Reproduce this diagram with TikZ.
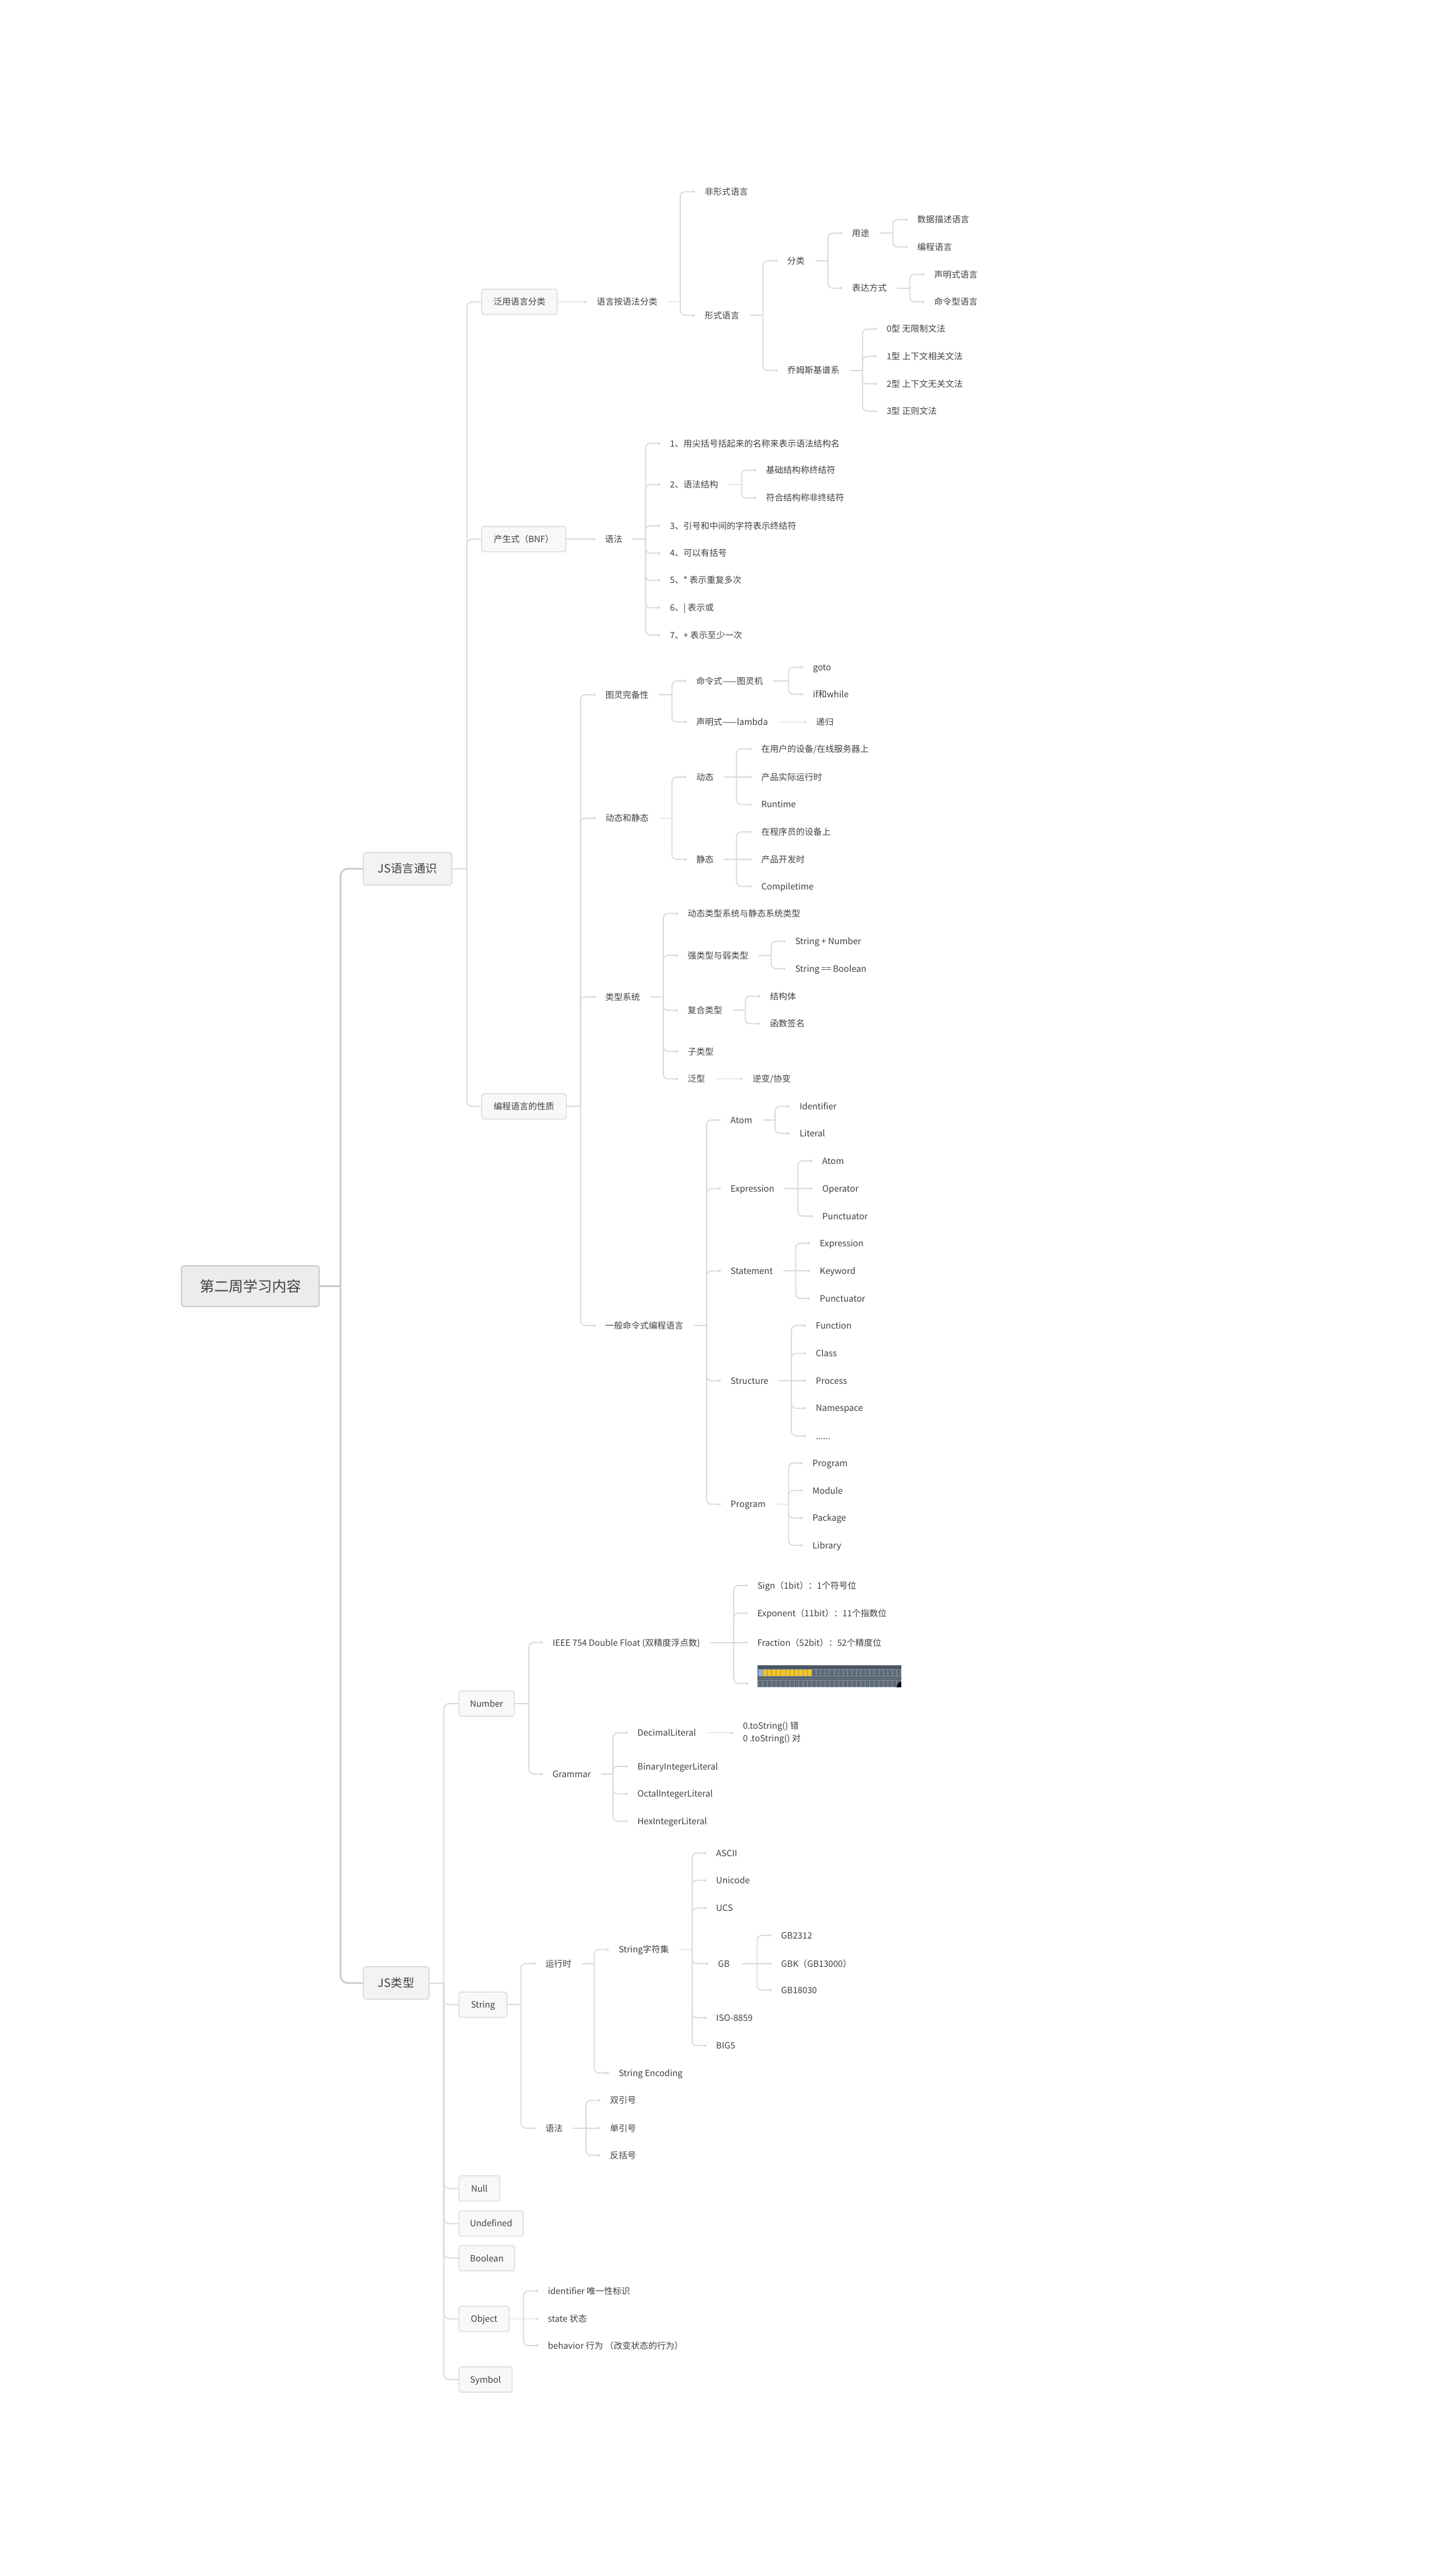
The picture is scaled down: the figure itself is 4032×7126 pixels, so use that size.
\documentclass[tikz,border=0pt]{standalone}
\usepackage{fontspec}
\setmainfont{Noto Sans CJK SC}
\usetikzlibrary{calc}
\definecolor{txtc}{HTML}{3F3F3F}
\definecolor{linec}{HTML}{DADADA}
\definecolor{trunkc}{HTML}{C9C9C9}
\definecolor{rootfill}{HTML}{ECECEC}
\definecolor{rootdraw}{HTML}{CCCCCC}
\definecolor{lonefill}{HTML}{F3F3F3}
\definecolor{lonedraw}{HTML}{D6D6D6}
\definecolor{ltwofill}{HTML}{F8F8F8}
\definecolor{ltwodraw}{HTML}{DCDCDC}
\definecolor{imgbg}{HTML}{4B5664}
\definecolor{cellg}{HTML}{5E6A78}
\definecolor{cellline}{HTML}{8A95A3}
\definecolor{cellb}{HTML}{8AB4E8}
\definecolor{celly}{HTML}{F5C518}
\newcommand\fsS{\fontsize{6.83pt}{8.2pt}\selectfont}
\newcommand\fsSS{\fontsize{6.83pt}{10.2pt}\selectfont}
\newcommand\fsM{\fontsize{9.1pt}{11pt}\selectfont}
\newcommand\fsL{\fontsize{11.38pt}{13.7pt}\selectfont}
% hub: [style]{parent}{gap}{bus x}
\newcommand\hub[4][conn]{\coordinate (#2-b) at (#4,0);\draw[#1] ($(#2.east)+(#3,0)$) -- (#2.east -| #2-b);}
% box child
\newcommand\bkid[3][busone]{\draw[#1] (#2.east -| #2-b) |- (#3.west);}
% leaf child with corner
\newcommand\kid[2]{\draw[conn] (#1.east -| #1-b) |- ($(#2.west)+(-30,0)$);\fill[dotc] ($(#2.west)+(-30,0)$) circle (0.035cm);}
% leaf child level with parent
\newcommand\kidm[2]{\draw[conn] (#1.east -| #1-b) -- ($(#2.west)+(-30,0)$);\fill[dotc] ($(#2.west)+(-30,0)$) circle (0.035cm);}
% single child
\newcommand\solo[3]{\draw[conn] ($(#1.east)+(#2,0)$) -- ($(#3.west)+(-30,0)$);\fill[dotc] ($(#3.west)+(-30,0)$) circle (0.035cm);}
\begin{document}
\begin{tikzpicture}[x=0.01cm,y=-0.01cm,
 leaf/.style={anchor=west, inner sep=0pt, font=\fsS, text=txtc, text height=0.187cm, text depth=0.005cm},
 leaftwo/.style={anchor=west, inner sep=0pt, font=\fsSS, text=txtc, align=left},
 boxtwo/.style={anchor=west, inner sep=0pt, font=\fsS, text=txtc, text height=0.187cm, text depth=0.005cm, draw=ltwodraw, fill=ltwofill, line width=0.025cm, rounded corners=0.06cm, minimum height=0.70cm},
 boxone/.style={anchor=west, inner sep=0pt, font=\fsM, text=txtc, text height=0.25cm, text depth=0.006cm, draw=lonedraw, fill=lonefill, line width=0.025cm, rounded corners=0.07cm, minimum height=0.90cm},
 rootbox/.style={anchor=west, inner sep=0pt, font=\fsL, text=txtc, text height=0.312cm, text depth=0.008cm, draw=rootdraw, fill=rootfill, line width=0.035cm, rounded corners=0.07cm, minimum height=1.13cm, minimum width=3.81cm},
 conn/.style={draw=linec, line width=0.03cm, rounded corners=0.13cm},
 busone/.style={draw=linec, line width=0.03cm, rounded corners=0.15cm},
 trunk/.style={draw=trunkc, line width=0.045cm, rounded corners=0.2cm},
 dotc/.style={fill=linec},
 cellgrid/.style={draw=cellline, line width=0.006cm}]
\fill[white] (0,0) rectangle (4032,7126);
\useasboundingbox (0,0) rectangle (4032,7126);

% ---------- root and level 1 ----------
\node[rootbox] (root) at (501,3562) {第二周学习内容};
\node[boxone, minimum width=2.45cm] (js1) at (1005,2406) {JS语言通识};
\node[boxone, minimum width=1.82cm] (js2) at (1005,5492) {JS类型};
\hub[trunk]{root}{0}{943}
\bkid[trunk]{root}{js1}
\bkid[trunk]{root}{js2}

% ---------- JS语言通识 ----------
\node[boxtwo, minimum width=2.09cm] (fy) at (1333,836) {泛用语言分类};
\node[boxtwo, minimum width=2.33cm] (bnf) at (1333,1493) {产生式（BNF）};
\node[boxtwo, minimum width=2.34cm] (xz) at (1333,3064) {编程语言的性质};
\hub[busone]{js1}{0}{1293}
\bkid{js1}{fy}
\bkid{js1}{bnf}
\bkid{js1}{xz}

% 泛用语言分类
\node[leaf] (yf) at (1652,836) {语言按语法分类};
\node[leaf] (fx1) at (1951,531) {非形式语言};
\node[leaf] (fx2) at (1951,873) {形式语言};
\node[leaf] (fl) at (2180,722) {分类};
\node[leaf] (qm) at (2180,1026) {乔姆斯基谱系};
\node[leaf] (yt) at (2359,646) {用途};
\node[leaf] (bd) at (2359,798) {表达方式};
\node[leaf] (sj) at (2540,608) {数据描述语言};
\node[leaf] (bc) at (2540,684) {编程语言};
\node[leaf] (smy) at (2587,760) {声明式语言};
\node[leaf] (mly) at (2587,836) {命令型语言};
\node[leaf] (q0) at (2455,911) {0型 无限制文法};
\node[leaf] (q1) at (2455,987) {1型 上下文相关文法};
\node[leaf] (q2) at (2455,1063) {2型 上下文无关文法};
\node[leaf] (q3) at (2455,1139) {3型 正则文法};
\solo{fy}{0}{yf}
\hub{yf}{28}{1884}
\kid{yf}{fx1}
\kid{yf}{fx2}
\hub{fx2}{28}{2113}
\kid{fx2}{fl}
\kid{fx2}{qm}
\hub{fl}{28}{2293}
\kid{fl}{yt}
\kid{fl}{bd}
\hub{yt}{28}{2473}
\kid{yt}{sj}
\kid{yt}{bc}
\hub{bd}{28}{2520}
\kid{bd}{smy}
\kid{bd}{mly}
\hub{qm}{28}{2389}
\kid{qm}{q0}
\kid{qm}{q1}
\kid{qm}{q2}
\kid{qm}{q3}

% 产生式（BNF）
\node[leaf] (yfa) at (1675,1493) {语法};
\node[leaf] (r1) at (1855,1228) {1、用尖括号括起来的名称来表示语法结构名};
\node[leaf] (r2) at (1855,1342) {2、语法结构};
\node[leaf] (r3) at (1855,1456) {3、引号和中间的字符表示终结符};
\node[leaf] (r4) at (1855,1532) {4、可以有括号};
\node[leaf] (r5) at (1855,1607) {5、* 表示重复多次};
\node[leaf] (r6) at (1855,1683) {6、| 表示或};
\node[leaf] (r7) at (1855,1759) {7、+ 表示至少一次};
\node[leaf] (jc) at (2121,1302) {基础结构称终结符};
\node[leaf] (fh) at (2121,1379) {符合结构称非终结符};
\solo{bnf}{0}{yfa}
\hub{yfa}{28}{1788}
\kid{yfa}{r1}
\kid{yfa}{r2}
\kid{yfa}{r3}
\kid{yfa}{r4}
\kid{yfa}{r5}
\kid{yfa}{r6}
\kid{yfa}{r7}
\hub{r2}{28}{2054}
\kid{r2}{jc}
\kid{r2}{fh}

% 编程语言的性质
\node[leaf] (tl) at (1676,1924) {图灵完备性};
\node[leaf] (dj) at (1676,2266) {动态和静态};
\node[leaf] (lx) at (1676,2761) {类型系统};
\node[leaf] (yb) at (1676,3671) {一般命令式编程语言};
\hub{xz}{0}{1608}
\kid{xz}{tl}
\kid{xz}{dj}
\kid{xz}{lx}
\kid{xz}{yb}

\node[leaf] (mlt) at (1928,1886) {命令式——图灵机};
\node[leaf] (smt) at (1928,2000) {声明式——lambda};
\node[leaf] (gt) at (2251,1848) {goto};
\node[leaf] (ifw) at (2251,1923) {if和while};
\node[leaf] (dg) at (2260,2000) {递归};
\hub{tl}{28}{1861}
\kid{tl}{mlt}
\kid{tl}{smt}
\hub{mlt}{28}{2184}
\kid{mlt}{gt}
\kid{mlt}{ifw}
\solo{smt}{28}{dg}

\node[leaf] (dt) at (1928,2152) {动态};
\node[leaf] (jt) at (1928,2380) {静态};
\node[leaf] (d1) at (2108,2074) {在用户的设备/在线服务器上};
\node[leaf] (d2) at (2108,2152) {产品实际运行时};
\node[leaf] (d3) at (2108,2228) {Runtime};
\node[leaf] (s1) at (2108,2304) {在程序员的设备上};
\node[leaf] (s2) at (2108,2380) {产品开发时};
\node[leaf] (s3) at (2108,2455) {Compiletime};
\hub{dj}{28}{1861}
\kid{dj}{dt}
\kid{dj}{jt}
\hub{dt}{28}{2040}
\kid{dt}{d1}
\kidm{dt}{d2}
\kid{dt}{d3}
\hub{jt}{28}{2040}
\kid{jt}{s1}
\kidm{jt}{s2}
\kid{jt}{s3}

\node[leaf] (t1) at (1904,2530) {动态类型系统与静态系统类型};
\node[leaf] (t2) at (1904,2646) {强类型与弱类型};
\node[leaf] (t3) at (1904,2798) {复合类型};
\node[leaf] (t4) at (1904,2912) {子类型};
\node[leaf] (t5) at (1904,2988) {泛型};
\node[leaf] (sn) at (2202,2607) {String + Number};
\node[leaf] (sb) at (2202,2683) {String == Boolean};
\node[leaf] (jg) at (2132,2759) {结构体};
\node[leaf] (hs) at (2132,2835) {函数签名};
\node[leaf] (nb) at (2084,2988) {逆变/协变};
\hub{lx}{28}{1837}
\kid{lx}{t1}
\kid{lx}{t2}
\kid{lx}{t3}
\kid{lx}{t4}
\kid{lx}{t5}
\hub{t2}{28}{2136}
\kid{t2}{sn}
\kid{t2}{sb}
\hub{t3}{28}{2064}
\kid{t3}{jg}
\kid{t3}{hs}
\solo{t5}{28}{nb}

\node[leaf] (at) at (2023,3102) {Atom};
\node[leaf] (ex) at (2023,3292) {Expression};
\node[leaf] (st) at (2023,3520) {Statement};
\node[leaf] (sr) at (2023,3824) {Structure};
\node[leaf] (pg) at (2023,4166) {Program};
\hub{yb}{28}{1957}
\kid{yb}{at}
\kid{yb}{ex}
\kid{yb}{st}
\kid{yb}{sr}
\kid{yb}{pg}
\node[leaf] (idf) at (2214,3064) {Identifier};
\node[leaf] (lit) at (2214,3139) {Literal};
\hub{at}{28}{2147}
\kid{at}{idf}
\kid{at}{lit}
\node[leaf] (exa) at (2277,3215) {Atom};
\node[leaf] (exo) at (2277,3292) {Operator};
\node[leaf] (exp) at (2277,3368) {Punctuator};
\hub{ex}{28}{2210}
\kid{ex}{exa}
\kidm{ex}{exo}
\kid{ex}{exp}
\node[leaf] (ste) at (2270,3443) {Expression};
\node[leaf] (stk) at (2270,3520) {Keyword};
\node[leaf] (stp) at (2270,3596) {Punctuator};
\hub{st}{28}{2204}
\kid{st}{ste}
\kidm{st}{stk}
\kid{st}{stp}
\node[leaf] (fn) at (2259,3671) {Function};
\node[leaf] (cl) at (2259,3748) {Class};
\node[leaf] (pr) at (2259,3824) {Process};
\node[leaf] (ns) at (2259,3900) {Namespace};
\node[leaf] (etc) at (2259,3977) {......};
\hub{sr}{28}{2192}
\kid{sr}{fn}
\kid{sr}{cl}
\kidm{sr}{pr}
\kid{sr}{ns}
\kid{sr}{etc}
\node[leaf] (pg1) at (2250,4052) {Program};
\node[leaf] (pg2) at (2250,4128) {Module};
\node[leaf] (pg3) at (2250,4204) {Package};
\node[leaf] (pg4) at (2250,4280) {Library};
\hub{pg}{28}{2184}
\kid{pg}{pg1}
\kid{pg}{pg2}
\kid{pg}{pg3}
\kid{pg}{pg4}

% ---------- JS类型 ----------
\node[boxtwo, minimum width=1.53cm] (num) at (1270,4718) {Number};
\node[boxtwo, minimum width=1.33cm] (str) at (1270,5552) {String};
\node[boxtwo, minimum width=1.13cm] (nul) at (1270,6061) {Null};
\node[boxtwo, minimum width=1.78cm] (und) at (1270,6158) {Undefined};
\node[boxtwo, minimum width=1.54cm] (boo) at (1270,6254) {Boolean};
\node[boxtwo, minimum width=1.39cm] (obj) at (1270,6422) {Object};
\node[boxtwo, minimum width=1.47cm] (sym) at (1270,6590) {Symbol};
\hub[busone]{js2}{0}{1229}
\bkid{js2}{num}
\bkid{js2}{str}
\bkid{js2}{nul}
\bkid{js2}{und}
\bkid{js2}{boo}
\bkid{js2}{obj}
\bkid{js2}{sym}

% Number
\node[leaf] (ieee) at (1530,4549) {IEEE 754 Double Float (双精度浮点数)};
\node[leaf] (gram) at (1530,4913) {Grammar};
\hub{num}{0}{1465}
\kid{num}{ieee}
\kid{num}{gram}
\node[leaf] (sg) at (2097,4391) {Sign（1bit）：1个符号位};
\node[leaf] (ep) at (2097,4468) {Exponent（11bit）：11个指数位};
\node[leaf] (fr) at (2097,4549) {Fraction（52bit）：52个精度位};
\node[anchor=north west, inner sep=0pt, minimum width=3.99cm, minimum height=0.61cm, fill=imgbg] (img) at (2097,4612) {};
\coordinate (imgdot) at (2099,4662);
\hub{ieee}{28}{2032}
\kid{ieee}{sg}
\kid{ieee}{ep}
\kidm{ieee}{fr}
\kid{ieee}{imgdot}
% bit layout picture
\draw[cellgrid, fill=cellb] (2100,4622) rectangle ++(12.35,20);
\foreach \i in {1,...,11} {\draw[cellgrid, fill=celly] ({2100+\i*12.35},4622) rectangle ++(12.35,20);}
\foreach \i in {12,...,31} {\draw[cellgrid, fill=cellg] ({2100+\i*12.35},4622) rectangle ++(12.35,20);}
\draw[cellline, line width=0.01cm] (2097,4647) -- (2496,4647);
\foreach \i in {0,...,31} {\draw[cellgrid, fill=cellg] ({2100+\i*12.35},4652) rectangle ++(12.35,20);}
\fill[black] (2483,4673) .. controls (2485,4663) and (2489,4659) .. (2496,4657) -- (2496,4673) -- cycle;

\node[leaf] (dl) at (1765,4799) {DecimalLiteral};
\node[leaf] (bi) at (1765,4892) {BinaryIntegerLiteral};
\node[leaf] (oc) at (1765,4968) {OctalIntegerLiteral};
\node[leaf] (hx) at (1765,5044) {HexIntegerLiteral};
\node[leaftwo] (ts) at (2057,4799) {0.toString() 错\\0 .toString() 对};
\hub{gram}{28}{1698}
\kid{gram}{dl}
\kid{gram}{bi}
\kid{gram}{oc}
\kid{gram}{hx}
\solo{dl}{28}{ts}

% String
\node[leaf] (yx) at (1510,5438) {运行时};
\node[leaf] (yfb) at (1510,5894) {语法};
\hub{str}{0}{1443}
\kid{str}{yx}
\kid{str}{yfb}
\node[leaf] (zf) at (1713,5399) {String字符集};
\node[leaf] (se) at (1713,5741) {String Encoding};
\hub{yx}{28}{1646}
\kid{yx}{zf}
\kid{yx}{se}
\node[leaf] (asc) at (1983,5132) {ASCII};
\node[leaf] (uni) at (1983,5208) {Unicode};
\node[leaf] (ucs) at (1983,5284) {UCS};
\node[leaf] (gb) at (1988,5438) {GB};
\node[leaf] (iso) at (1983,5588) {ISO-8859};
\node[leaf] (big) at (1983,5665) {BIG5};
\hub{zf}{28}{1917}
\kid{zf}{asc}
\kid{zf}{uni}
\kid{zf}{ucs}
\kid{zf}{gb}
\kid{zf}{iso}
\kid{zf}{big}
\node[leaf] (g1) at (2163,5360) {GB2312};
\node[leaf] (g2) at (2163,5438) {GBK（GB13000）};
\node[leaf] (g3) at (2163,5512) {GB18030};
\hub{gb}{33}{2097}
\kid{gb}{g1}
\kidm{gb}{g2}
\kid{gb}{g3}
\node[leaf] (sy) at (1689,5817) {双引号};
\node[leaf] (dy) at (1689,5894) {单引号};
\node[leaf] (fk) at (1689,5969) {反括号};
\hub{yfb}{28}{1623}
\kid{yfb}{sy}
\kidm{yfb}{dy}
\kid{yfb}{fk}

% Object
\node[leaf] (oi) at (1517,6345) {identifier 唯一性标识};
\node[leaf] (os) at (1517,6422) {state 状态};
\node[leaf] (ob) at (1517,6496) {behavior 行为 （改变状态的行为）};
\hub{obj}{0}{1450}
\kid{obj}{oi}
\kidm{obj}{os}
\kid{obj}{ob}
\end{tikzpicture}
\end{document}
